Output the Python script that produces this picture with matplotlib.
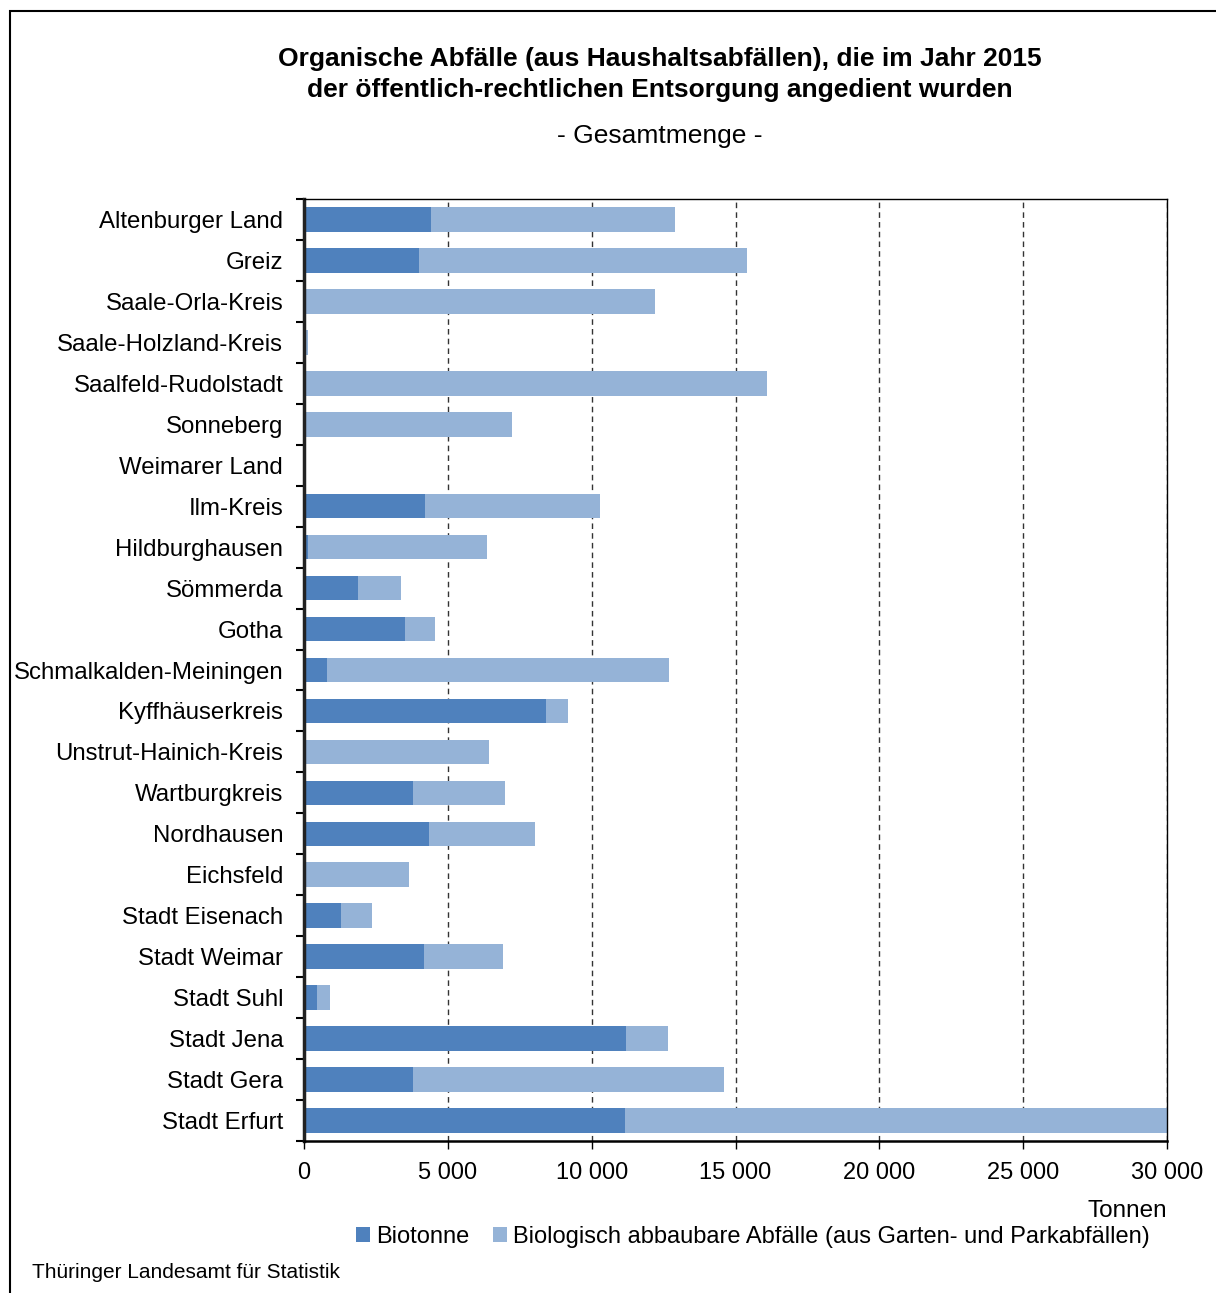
import numpy as np
import matplotlib
matplotlib.use('Agg')
import matplotlib.pyplot as plt
from matplotlib.patches import Rectangle
from matplotlib.ticker import FuncFormatter

plt.rcParams['font.family'] = ['Liberation Sans', 'DejaVu Sans']

regions = ['Altenburger Land', 'Greiz', 'Saale-Orla-Kreis', 'Saale-Holzland-Kreis',
           'Saalfeld-Rudolstadt', 'Sonneberg', 'Weimarer Land', 'Ilm-Kreis',
           'Hildburghausen', 'Sömmerda', 'Gotha', 'Schmalkalden-Meiningen',
           'Kyffhäuserkreis', 'Unstrut-Hainich-Kreis', 'Wartburgkreis', 'Nordhausen',
           'Eichsfeld', 'Stadt Eisenach', 'Stadt Weimar', 'Stadt Suhl', 'Stadt Jena',
           'Stadt Gera', 'Stadt Erfurt']
biotonne = [4410, 4000, 0, 0, 0, 0, 0, 4210, 140, 1880, 3510, 800, 8410, 0,
            3790, 4350, 0, 1290, 4170, 450, 11190, 3790, 11160]
garten = [8490, 11400, 12200, 130, 16090, 7230, 0, 6080, 6220, 1490, 1040, 11890,
          770, 6430, 3200, 3680, 3650, 1080, 2750, 450, 1460, 10810, 18900]

c_bio = '#4f81bd'
c_garten = '#95b3d7'

fig = plt.figure(figsize=(12.16, 12.93), dpi=100)
fig.patches.append(Rectangle((10 / 1216, -0.01), 1.05, 1 - 11 / 1293 + 0.01,
                             transform=fig.transFigure, fill=False,
                             edgecolor='black', linewidth=1.5))
ax = fig.add_axes([304 / 1216, 1 - 1141 / 1293, 863 / 1216, 942 / 1293])

y = np.arange(len(regions))
ax.barh(y, biotonne, height=0.6, color=c_bio, label='Biotonne', zorder=3)
ax.barh(y, garten, left=biotonne, height=0.6, color=c_garten,
        label='Biologisch abbaubare Abfälle (aus Garten- und Parkabfällen)', zorder=3)

ax.set_xlim(0, 30000)
ax.set_ylim(len(regions) - 0.5, -0.5)
ax.set_xticks(np.arange(0, 30001, 5000))
ax.xaxis.set_major_formatter(FuncFormatter(lambda v, p: f'{int(v):,}'.replace(',', ' ')))
ax.set_yticks(y)
ax.set_yticklabels(regions)
ax.set_yticks(np.arange(-0.5, len(regions), 1), minor=True)
ax.tick_params(axis='y', which='major', length=0, pad=15, labelsize=17.3)
ax.tick_params(axis='y', which='minor', length=6, width=1.5, direction='out')
ax.tick_params(axis='x', length=6, width=1, labelsize=17, pad=9)
ax.grid(axis='x', linestyle=(0, (4, 3)), color='#333333', linewidth=1, zorder=0)
for s in ax.spines.values():
    s.set_linewidth(1)
    s.set_zorder(4)
ax.spines['left'].set_linewidth(2.5)
ax.spines['left'].set_color('#222222')
ax.spines['bottom'].set_linewidth(1.8)

tx = 660 / 1216
fig.text(tx, 1 - 59 / 1293, 'Organische Abfälle (aus Haushaltsabfällen), die im Jahr 2015',
         ha='center', va='center', fontsize=19, fontweight='bold')
fig.text(tx, 1 - 90 / 1293, 'der öffentlich-rechtlichen Entsorgung angedient wurden',
         ha='center', va='center', fontsize=19, fontweight='bold')
fig.text(tx, 1 - 136 / 1293, '- Gesamtmenge -', ha='center', va='center', fontsize=19)
fig.text(1167 / 1216, 1 - 1211 / 1293, 'Tonnen', ha='right', va='center', fontsize=17.5)
fig.text(32 / 1216, 1 - 1272 / 1293, 'Thüringer Landesamt für Statistik',
         ha='left', va='center', fontsize=15)

fig.legend(loc='center', bbox_to_anchor=(753 / 1216, 1 - 1237 / 1293), ncol=2,
           frameon=False, fontsize=17, handlelength=0.6, handleheight=0.6,
           handletextpad=0.25, columnspacing=1.0)

fig.savefig('out.png', dpi=100)
